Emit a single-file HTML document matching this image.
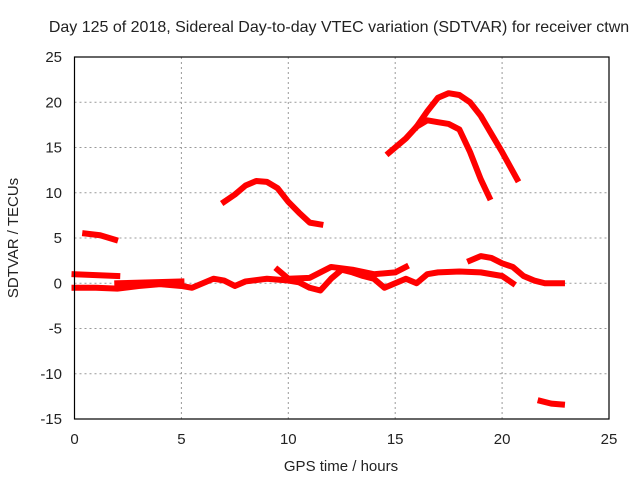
<!DOCTYPE html>
<html><head><meta charset="utf-8"><style>
body{margin:0;background:#fff}
text{font-family:"Liberation Sans",sans-serif;font-size:15px;fill:#222}
</style></head><body>
<svg id="c" width="640" height="480">
<text x="339" y="32" text-anchor="middle" style="font-size:16px">Day 125 of 2018, Sidereal Day-to-day VTEC variation (SDTVAR) for receiver ctwn</text>
<text x="341" y="471" text-anchor="middle">GPS time / hours</text>
<text transform="translate(18,238) rotate(-90)" text-anchor="middle">SDTVAR / TECUs</text>
<g id="grid"></g><g id="ticks"></g><g id="series"></g>
<rect x="74.5" y="57" width="534.5" height="362" fill="none" stroke="#000" stroke-width="1.2"/>
</svg>
<script>
const xTicks=[0,5,10,15,20,25];
const yTicks=[-15,-10,-5,0,5,10,15,20,25];
const s1=[[7,9],[7.5,9.8],[8,10.8],[8.5,11.3],[9,11.2],[9.5,10.5],[10,9],[10.5,7.8],[11,6.7],[11.5,6.5]];
const s2=[[0.5,5.5],[1.2,5.3],[1.9,4.8]];
const s3=[[14.7,14.4],[15.5,16],[16,17.3],[16.5,18],[17,17.8],[17.5,17.6],[18,17],[18.5,14.5],[19,11.5],[19.4,9.5]];
const s4=[[16,17.3],[16.5,19],[17,20.5],[17.5,21],[18,20.8],[18.5,20],[19,18.5],[19.5,16.5],[20,14.5],[20.7,11.5]];
const s5=[[21.8,-13],[22.3,-13.3],[22.8,-13.4]];
const s6=[[0,-0.5],[1,-0.5],[2,-0.6],[3,-0.3],[4,-0.1],[5,-0.3],[5.5,-0.5],[6,0],[6.5,0.5],[7,0.3],[7.5,-0.3],[8,0.2],[9,0.5],[10,0.3],[10.5,0.1],[11,-0.5],[11.5,-0.8],[12,0.5],[12.5,1.5],[13,1.2],[13.5,0.8],[14,0.5],[14.5,-0.5],[15,0],[15.5,0.5],[16,0],[16.5,1],[17,1.2],[18,1.3],[19,1.2],[20,0.8],[20.5,0]];
const s7=[[0,1],[1,0.9],[2,0.8]];
const s8=[[2,0],[3.5,0.1],[5,0.2]];
const s9=[[18.5,2.5],[19,3],[19.5,2.8],[20,2.2],[20.5,1.8],[21,0.8],[21.5,0.3],[22,0],[22.8,0]];
const s10=[[9.5,1.5],[10,0.5],[11,0.6],[12,1.8],[13,1.5],[14,1],[15,1.2],[15.5,1.8]];
const allSeries=[s1,s2,s3,s4,s5,s6,s7,s8,s9,s10];
const X=v=>74.5+v*(534.5/25), Y=v=>57+(25-v)*(362/40);
const NS='http://www.w3.org/2000/svg';
const mk=(t,a,p)=>{const e=document.createElementNS(NS,t);for(const k in a)e.setAttribute(k,a[k]);document.getElementById(p).appendChild(e);return e;};
xTicks.forEach(v=>{
 if(v>0&&v<25){const g=mk('line',{x1:X(v),x2:X(v),y1:57,y2:419,stroke:'#999','stroke-dasharray':'2,3'},'grid');
 
 }
 const t=mk('text',{x:X(v),y:444,'text-anchor':'middle'},'ticks');t.textContent=v;
 
 
});
yTicks.forEach(v=>{
 if(v>-15&&v<25){const g=mk('line',{x1:74.5,x2:609,y1:Y(v),y2:Y(v),stroke:'#999','stroke-dasharray':'2,3'},'grid');
 
 }
 const t=mk('text',{x:62,y:Y(v)+5,'text-anchor':'end'},'ticks');t.textContent=v;
 
 
});
allSeries.forEach(s=>{
 const p=mk('polyline',{points:s.map(d=>X(d[0])+','+Y(d[1])).join(' '),fill:'none',stroke:'#f00','stroke-width':6,'stroke-linejoin':'round','stroke-linecap':'square'},'series');
 
 
});
</script>
</body></html>
